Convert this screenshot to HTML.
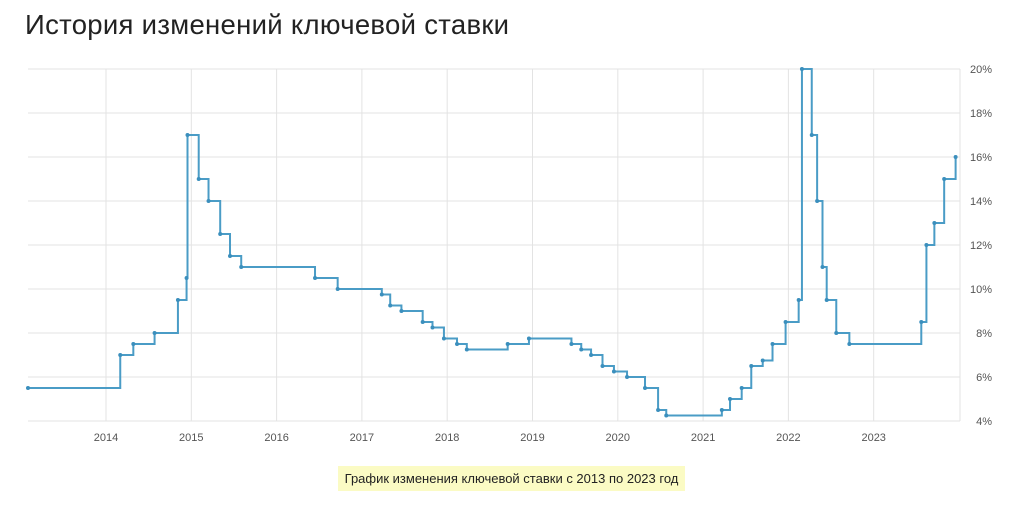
<!DOCTYPE html>
<html><head><meta charset="utf-8"><style>
body{margin:0;background:#fff;width:1023px;height:512px;overflow:hidden;font-family:"Liberation Sans",sans-serif}
.t{position:absolute;left:25px;top:9px;font-size:27.5px;color:#222;letter-spacing:0.3px}
.cap{position:absolute;left:338px;top:466px;width:347px;height:25px;background:#fbfbc4;font-size:13px;color:#222;line-height:25px;text-align:center}
svg{position:absolute;left:0;top:0}
</style></head><body>
<div class="t">История изменений ключевой ставки</div>
<svg id="s" width="1023" height="512"></svg>
<div class="cap">График изменения ключевой ставки с 2013 по 2023 год</div>
<script>
var d=[["2013-01-31",5.5],["2014-03-03",7],["2014-04-28",7.5],["2014-07-28",8],["2014-11-05",9.5],["2014-12-12",10.5],["2014-12-16",17],["2015-02-02",15],["2015-03-16",14],["2015-05-05",12.5],["2015-06-16",11.5],["2015-08-03",11],["2016-06-14",10.5],["2016-09-19",10],["2017-03-27",9.75],["2017-05-02",9.25],["2017-06-19",9],["2017-09-18",8.5],["2017-10-30",8.25],["2017-12-18",7.75],["2018-02-12",7.5],["2018-03-26",7.25],["2018-09-17",7.5],["2018-12-17",7.75],["2019-06-17",7.5],["2019-07-29",7.25],["2019-09-09",7],["2019-10-28",6.5],["2019-12-16",6.25],["2020-02-10",6],["2020-04-27",5.5],["2020-06-22",4.5],["2020-07-27",4.25],["2021-03-22",4.5],["2021-04-26",5],["2021-06-15",5.5],["2021-07-26",6.5],["2021-09-13",6.75],["2021-10-25",7.5],["2021-12-20",8.5],["2022-02-14",9.5],["2022-02-28",20],["2022-04-11",17],["2022-05-04",14],["2022-05-27",11],["2022-06-14",9.5],["2022-07-25",8],["2022-09-19",7.5],["2023-07-24",8.5],["2023-08-15",12],["2023-09-18",13],["2023-10-30",15],["2023-12-18",16]];
var t0=Date.UTC(2014,0,1),yr=365.25*864e5;
function X(s){var p=s.split("-");return Math.max(28,106+85.3*(Date.UTC(+p[0],p[1]-1,+p[2])-t0)/yr)}
function Y(v){return 421-(v-4)*22}
var h="";
for(var i=0;i<9;i++){var y=69+i*44;h+='<line x1="28" x2="960" y1="'+y+'" y2="'+y+'" stroke="#e3e3e3"/>';h+='<text x="992" y="'+(y+4)+'" font-size="11" fill="#555" text-anchor="end">'+(20-i*2)+'%</text>'}
for(var k=0;k<10;k++){var x=106+85.3*k;h+='<line x1="'+x+'" x2="'+x+'" y1="69" y2="421" stroke="#e3e3e3"/>';h+='<text x="'+x+'" y="441" font-size="11" fill="#555" text-anchor="middle">'+(2014+k)+'</text>'}
h+='<line x1="960" x2="960" y1="69" y2="421" stroke="#e3e3e3"/>';
var p="",dots="";
for(var i=0;i<d.length;i++){var x=X(d[i][0]),y=Y(d[i][1]);if(i==0)p="M"+x+" "+y;else p+=" V"+y;if(i<d.length-1)p+=" H"+X(d[i+1][0]);dots+='<circle cx="'+x+'" cy="'+y+'" r="2" fill="#3b8fbd"/>'}
h+='<path d="'+p+'" fill="none" stroke="#4a9cc6" stroke-width="2"/>'+dots;
document.getElementById("s").innerHTML=h;
</script>
</body></html>
